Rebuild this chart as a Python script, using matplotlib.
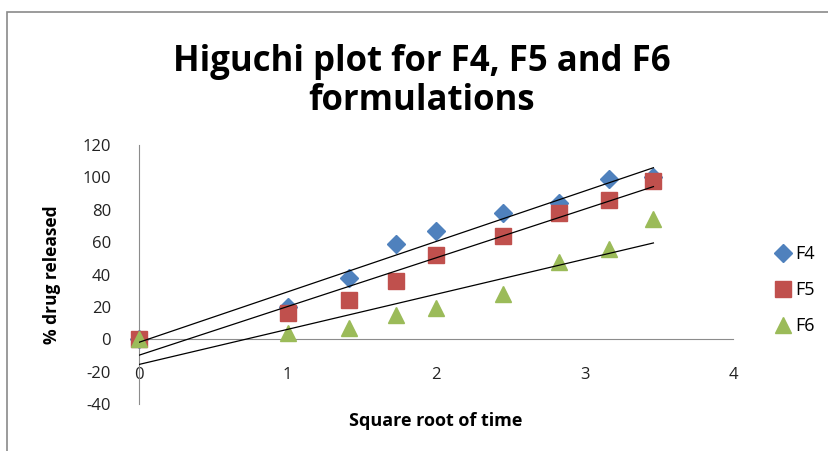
import numpy as np
import matplotlib.pyplot as plt
from matplotlib.patches import Rectangle

plt.rcParams['axes.unicode_minus'] = False

# Square root of time (sqrt of 0,1,2,3,4,6,8,10,12)
sqrt_time = [0, 1, 1.414, 1.732, 2, 2.449, 2.828, 3.162, 3.464]

# % drug released
f4 = [0, 20, 38, 59, 67, 78, 84, 99, 100]
f5 = [0, 16, 24, 36, 52, 64, 78, 86, 98]
f6 = [0, 4, 7, 15, 19, 28, 48, 56, 74]

labels = ['F4', 'F5', 'F6']
colors = ['#4F81BD', '#C0504D', '#9BBB59']
markers = ['D', 's', '^']
sizes = [9, 11, 12]

fig = plt.figure(figsize=(8.29, 4.51), dpi=100)
ax = fig.add_axes([0.1677, 0.1042, 0.7165, 0.5743])

# chart area border (Excel style)
fig.patches.append(Rectangle((7 / 829, -0.1), 1.0, 1.1 - 12 / 451, transform=fig.transFigure,
                             fill=False, edgecolor='#8a8a8a', linewidth=1.2))

x = np.array(sqrt_time)
for y, lab, c, m, s in zip([f4, f5, f6], labels, colors, markers, sizes):
    ax.plot(x, y, linestyle='none', marker=m, color=c, markersize=s, label=lab,
            zorder=3, clip_on=False)
    # linear trendline
    slope, intercept = np.polyfit(x, y, 1)
    xx = np.array([0, x[-1]])
    ax.plot(xx, slope * xx + intercept, color='black', linewidth=0.9, zorder=4)

ax.set_xlim(0, 4)
ax.set_ylim(-40, 120)
ax.set_xticks([0, 1, 2, 3, 4])
ax.set_yticks(np.arange(-40, 121, 20))

for side in ['top', 'right']:
    ax.spines[side].set_visible(False)
ax.spines['bottom'].set_position(('data', 0))
ax.spines['left'].set_position(('data', 0))
ax.spines['bottom'].set_color('#8c8c8c')
ax.spines['left'].set_color('#8c8c8c')
ax.tick_params(axis='x', length=0, pad=20, labelsize=12, labelcolor='#222222')
ax.tick_params(axis='y', length=0, pad=20, labelsize=12, labelcolor='#222222')
for t in ax.get_xticklabels() + ax.get_yticklabels():
    t.set_family('Open Sans')

fig.text(0.509, 0.82, 'Higuchi plot for F4, F5 and F6\nformulations', ha='center', va='center',
         fontsize=25, fontweight='bold', family='Open Sans', linespacing=1.1)
fig.text(0.063, 0.39, '% drug released', rotation=90, ha='center', va='center',
         fontsize=12.5, fontweight='bold', family='Open Sans')
fig.text(0.526, 0.066, 'Square root of time', ha='center', va='center',
         fontsize=13, fontweight='bold', family='Open Sans')

leg = ax.legend(loc='center left', bbox_to_anchor=(1.04, 0.44), frameon=False,
                handletextpad=0.15, labelspacing=1.0, handlelength=1.1,
                prop={'family': 'Open Sans', 'size': 13})

fig.savefig('out.png', dpi=100)
